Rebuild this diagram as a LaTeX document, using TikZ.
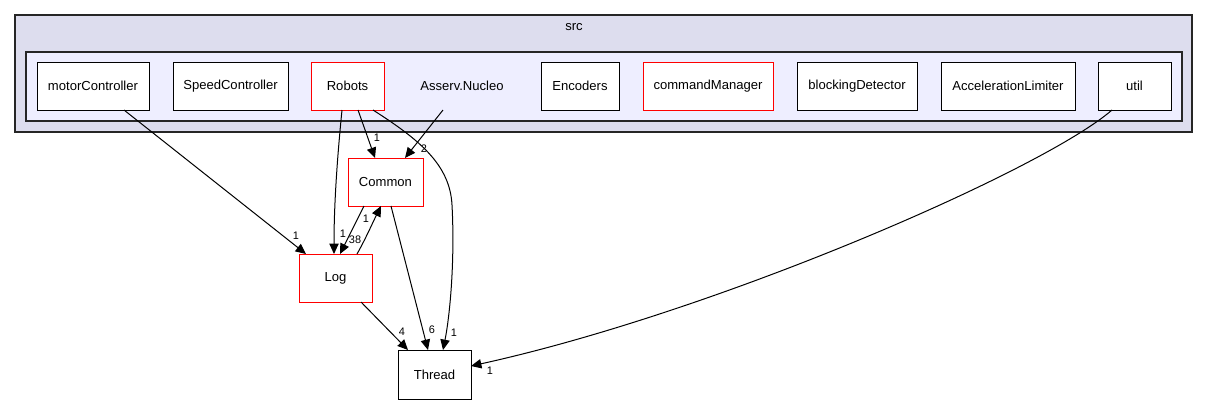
\documentclass[tikz,border=0pt]{standalone}
\usepackage{fontspec}
\setmainfont{Liberation Sans}
\usetikzlibrary{arrows.meta,calc}
\definecolor{outerfill}{HTML}{DDDDEE}
\definecolor{innerfill}{HTML}{EEEEFF}
\definecolor{redline}{HTML}{FF0000}
\tikzset{
  dirbox/.style={draw=black, fill=white, line width=0.75pt, inner sep=0pt, outer sep=0pt,
    minimum height=36pt, font=\fontsize{9.8}{11}\selectfont},
  redbox/.style={draw=redline},
  plainlbl/.style={inner sep=0pt, outer sep=0pt, font=\fontsize{9.8}{11}\selectfont},
  edgelbl/.style={inner sep=0pt, outer sep=0pt, font=\fontsize{8.2}{9}\selectfont},
  dep/.style={draw=black, line width=0.75pt, -{Triangle[length=7.8pt,width=7pt]}},
  cluster/.style={draw=black!85, line width=1pt}
}
\begin{document}
\begin{tikzpicture}[x=0.75pt,y=-0.75pt]
\useasboundingbox (0,0) rectangle (1208,404);
% clusters
\draw[cluster, fill=outerfill] (15,15) rectangle (1192,132);
\node[plainlbl] (srclbl) at (574,27) {src};
\draw[cluster, fill=innerfill] (26,52) rectangle (1182,121);
% nodes inside
\node[dirbox, minimum width=84pt] (motor) at (93,86) {motorController};
\node[dirbox, minimum width=86.25pt] (speed) at (230.5,86) {SpeedController};
\node[dirbox, minimum width=54.75pt, redbox] (robots) at (347.5,86) {Robots};
\node[plainlbl, minimum height=36pt] (asserv) at (462,86) {Asserv.Nucleo};
\node[dirbox, minimum width=58.5pt] (enc) at (580,86) {Encoders};
\node[dirbox, minimum width=97.5pt, redbox] (cmd) at (708,86) {commandManager};
\node[dirbox, minimum width=90pt] (block) at (857,86) {blockingDetector};
\node[dirbox, minimum width=100.5pt] (accel) at (1008,86) {AccelerationLimiter};
\node[dirbox, minimum width=54.75pt] (util) at (1134.5,86) {util};
% outside nodes
\node[dirbox, minimum width=56.25pt, redbox] (common) at (385.5,182) {Common};
\node[dirbox, minimum width=54.75pt, redbox] (log) at (335.5,278) {Log};
\node[dirbox, minimum width=54.75pt, minimum height=36.75pt] (thread) at (434.5,374.5) {Thread};
% edges
\draw[dep] ($(motor.south)+(31,0)$) -- ($(log.north west)+(7,0)$);
\node[edgelbl] (l1) at (296,236) {1};
\draw[dep] ($(robots.south)+(-5.5,0)$) .. controls (338,150) and (334,200) .. ($(log.north)+(-1.5,0)$);
\node[edgelbl] (l2) at (343,234) {1};
\draw[dep] ($(robots.south)+(10.5,0)$) -- ($(common.north)+(-10.5,0)$);
\node[edgelbl] (l3) at (377,138) {1};
\draw[dep] ($(robots.south)+(25.5,0)$) .. controls (420,140) and (450,165) .. (452,205)
   .. controls (455,260) and (450,315) .. ($(thread.north)+(8.5,0)$);
\node[edgelbl] (l4) at (454,333) {1};
\draw[dep] ($(asserv.south)+(-19,0)$) -- ($(common.north)+(19.5,0)$);
\node[edgelbl] (l5) at (424,149) {2};
\draw[dep] ($(common.south)+(-21.5,0)$) .. controls (356,222) and (348,238) .. ($(log.north)+(4.5,0)$);
\node[edgelbl] (l6) at (355,240) {38};
\draw[dep] ($(log.north)+(21.5,0)$) .. controls (365,240) and (373,222) .. ($(common.south)+(-4.5,0)$);
\node[edgelbl] (l7) at (366,219) {1};
\draw[dep] ($(common.south)+(5.5,0)$) -- ($(thread.north)+(-6.5,0)$);
\node[edgelbl] (l8) at (432,330) {6};
\draw[dep] ($(log.south)+(25.5,0)$) -- ($(thread.north)+(-26.5,0)$);
\node[edgelbl] (l9) at (402,332) {4};
\draw[dep] ($(util.south)+(-22.5,0)$) .. controls (1043,170) and (717,312) .. ($(thread.east)+(0,-8.5)$);
\node[edgelbl] (l10) at (490,371) {1};
\end{tikzpicture}
\end{document}
